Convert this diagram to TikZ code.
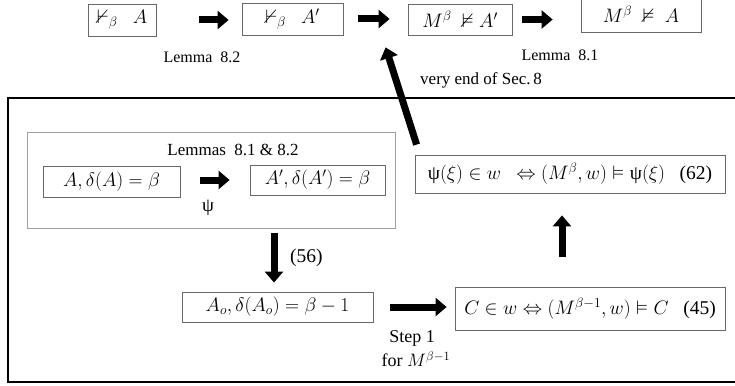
\RequirePackage{fix-cm}
\documentclass[tikz,border=0pt]{standalone}
\usepackage{amsmath,amssymb}
\usepackage{fontspec}
\setmainfont{Liberation Serif}
\usetikzlibrary{arrows.meta}
\definecolor{boxgray}{RGB}{105,105,105}
\definecolor{lightgray2}{RGB}{160,160,160}
\begin{document}
\begin{tikzpicture}[x=1pt,y=-1pt,
  box/.style={draw=boxgray, line width=0.8pt, inner sep=0pt, font=\fontsize{19.5}{23}\selectfont},
  fat/.style={line width=7pt, -{Triangle[width=18pt,length=11pt]}},
  lbl/.style={font=\fontsize{16}{19}\selectfont, inner sep=0pt}]
\useasboundingbox (0,0) rectangle (735,385);
% top row
\node[box, minimum width=68pt, minimum height=32pt] (b1) at (122,20) {$\nvdash_\beta\ \ A$};
\node[box, minimum width=101pt, minimum height=32pt] (b2) at (292.5,19) {$\nvdash_\beta\ \ A'$};
\node[box, minimum width=104pt, minimum height=31pt] (b3) at (460,19.5) {$M^\beta\ \nvDash A'$};
\node[box, minimum width=120pt, minimum height=35pt] (b4) at (641,14.5) {$M^\beta\ \nvDash\ A$};
\draw[fat, shorten <=43pt, shorten >=13pt] (b1.east) -- (b1.east -| b2.west);
\draw[fat, shorten <=15pt, shorten >=18pt] (b2.east) -- (b2.east -| b3.west);
\draw[fat, shorten <=10pt, shorten >=28pt] (b3.east) -- (b3.east -| b4.west);
\node[lbl] (l82) at (202,57) {Lemma~ 8.2};
\node[lbl] (l81) at (560,55) {Lemma~ 8.1};
\node[lbl, font=\fontsize{17}{20}\selectfont, anchor=west] (lend) at (420,80) {very end of Sec.\,8};
% outer frame
\draw[line width=1.5pt] (8,98) rectangle (737,382);
% inner group
\node[draw=lightgray2, line width=0.8pt, minimum width=368pt, minimum height=96pt, inner sep=0pt] (inner) at (211,180) {};
\node[lbl, font=\fontsize{17}{20}\selectfont] (lem) at (233,150) {Lemmas~ 8.1 \& 8.2};
\node[box, minimum width=137pt, minimum height=31pt] (bA) at (111.5,181.5) {$A, \delta(A) = \beta$};
\node[box, minimum width=135pt, minimum height=30pt] (bAp) at (317.5,180) {$A', \delta(A') = \beta$};
\draw[fat, shorten <=20pt, shorten >=20pt] (bA.east |- bAp.east) -- (bAp.west);
\node[lbl, font=\fontsize{19}{22}\selectfont] (psi) at (208,208) {ψ};
% lower part
\node[box, minimum width=191pt, minimum height=30pt] (bAo) at (277.5,307) {$A_o, \delta(A_o) = \beta - 1$};
\draw[fat, shorten <=5pt, shorten >=9pt] ([xshift=-3.5pt]bAo.north |- inner.south) -- ([xshift=-3.5pt]bAo.north);
\node[lbl, font=\fontsize{19.5}{22}\selectfont, anchor=west] (n56) at (290,258) {(56)};
\node[box, minimum width=270pt, minimum height=43pt] (bC) at (590,308.5) {$C \in w \Leftrightarrow (M^{\beta-1}, w) \vDash C$\ \ \ (45)};
\draw[fat, shorten <=17pt, shorten >=8pt] (bAo.east) -- (bAo.east -| bC.west);
\node[lbl, font=\fontsize{18}{21}\selectfont] (st1) at (412,338) {Step 1};
\node[lbl, font=\fontsize{18}{21}\selectfont] (for) at (416,359) {for $M^{\beta-1}$};
\node[box, minimum width=310pt, minimum height=38pt] (b62) at (570,174) {$\text{ψ}(\xi) \in w\ \ \Leftrightarrow (M^{\beta}, w) \vDash \text{ψ}(\xi)$\ \ \ (62)};
\draw[fat, shorten <=30pt, shorten >=22pt] ([xshift=-8pt]b62.south |- bC.north) -- ([xshift=-8pt]b62.south);
\draw[fat] ([shift={(2,-10)}]b62.north west) -- ([shift={(-22,12)}]b3.south west);
\end{tikzpicture}
\end{document}
